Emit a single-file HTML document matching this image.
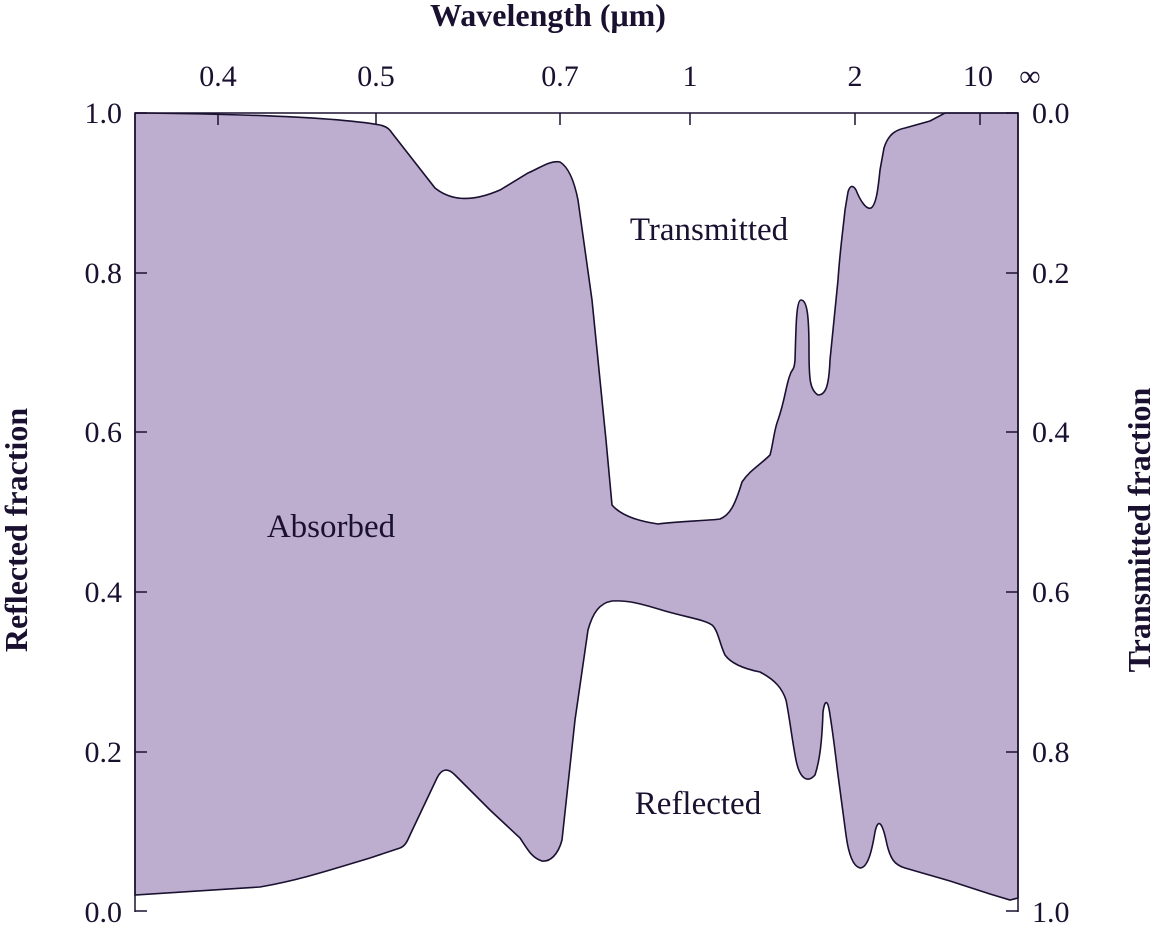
<!DOCTYPE html>
<html><head><meta charset="utf-8"><style>
html,body{margin:0;padding:0;background:#fff;width:1154px;height:929px;overflow:hidden}
svg text{font-family:"Liberation Serif",serif;fill:#1a1030}
</style></head><body>
<svg width="1154" height="929" viewBox="0 0 1154 929">
<path d="M135,113 C250,114 340,118 380,125 C388,127 390,130 392,133 L435,188 C450,200 470,203 500,190 L528,173 C540,168 550,160 560,162 C570,168 575,185 578,200 L592,300 L606,440 L612,505 C618,512 630,520 658,524 C680,521 705,521 720,519 C730,515 735,505 742,482 C750,470 760,465 770,455 C773,445 774,430 778,420 C785,400 786,385 790,375 C792,368 794,372 795,360 C796,330 796,300 801,300 C807,300 809,315 809,350 C809,380 810,390 818,395 C826,395 829,385 830,360 L838,280 C840,250 843,230 845,210 L848,192 C850,185 853,185 856,190 C860,200 866,210 871,208 C876,205 878,190 880,170 L884,148 C888,135 895,130 905,128 L930,121 L945,113 L1018,113 L1018,898 L1010,900 L990,894 L950,881 L905,868 C895,865 890,860 886,840 C882,822 878,818 875,832 C872,850 868,868 860,868 C852,866 848,850 846,835 L838,775 C836,760 834,740 830,715 C828,700 825,698 823,712 C822,740 820,760 815,775 C808,783 800,780 796,760 C792,740 790,720 786,700 C782,688 775,680 760,672 C740,668 730,662 725,655 C720,645 718,630 712,625 C705,620 690,618 665,611 C645,605 630,600 612,601 C600,603 593,612 588,630 L575,720 L562,840 C558,855 550,862 542,861 C532,858 528,850 520,838 L490,810 L455,775 C448,768 442,768 437,778 L410,835 C407,842 405,846 400,848 L370,858 C330,870 300,880 260,887 L135,895 Z" fill="#bdaecf" stroke="#1a1030" stroke-width="1.6"/>
<line x1="135" y1="113" x2="135" y2="912" stroke="#1a1030" stroke-width="1.5"/>
<line x1="1018" y1="113" x2="1018" y2="912" stroke="#1a1030" stroke-width="1.5"/>
<line x1="135" y1="113" x2="1018" y2="113" stroke="#1a1030" stroke-width="1.5"/>
<g stroke="#1a1030" stroke-width="1.5">
<line x1="135" y1="113" x2="147" y2="113"/><line x1="135" y1="273" x2="147" y2="273"/><line x1="135" y1="432" x2="147" y2="432"/><line x1="135" y1="592" x2="147" y2="592"/><line x1="135" y1="752" x2="147" y2="752"/><line x1="135" y1="911" x2="147" y2="911"/>
<line x1="1006" y1="113" x2="1018" y2="113"/><line x1="1006" y1="273" x2="1018" y2="273"/><line x1="1006" y1="432" x2="1018" y2="432"/><line x1="1006" y1="592" x2="1018" y2="592"/><line x1="1006" y1="752" x2="1018" y2="752"/><line x1="1006" y1="911" x2="1018" y2="911"/>
<line x1="218" y1="113" x2="218" y2="125"/><line x1="376" y1="113" x2="376" y2="125"/><line x1="560" y1="113" x2="560" y2="125"/><line x1="690" y1="113" x2="690" y2="125"/><line x1="855" y1="113" x2="855" y2="125"/><line x1="980" y1="113" x2="980" y2="125"/>
</g>
<g font-size="30" text-anchor="end">
<text x="122" y="123">1.0</text><text x="122" y="283">0.8</text><text x="122" y="442">0.6</text><text x="122" y="602">0.4</text><text x="122" y="762">0.2</text><text x="122" y="922">0.0</text>
</g>
<g font-size="30" text-anchor="start">
<text x="1032" y="123">0.0</text><text x="1032" y="283">0.2</text><text x="1032" y="442">0.4</text><text x="1032" y="602">0.6</text><text x="1032" y="762">0.8</text><text x="1032" y="922">1.0</text>
</g>
<g font-size="30" text-anchor="middle">
<text x="218" y="86">0.4</text><text x="376" y="86">0.5</text><text x="560" y="86">0.7</text><text x="690" y="86">1</text><text x="855" y="86">2</text><text x="978" y="86">10</text><text x="1030" y="86">∞</text>
</g>
<text x="548" y="26" font-size="32" font-weight="bold" text-anchor="middle">Wavelength (μm)</text>
<text transform="translate(27,530) rotate(-90)" font-size="32" font-weight="bold" text-anchor="middle">Reflected fraction</text>
<text transform="translate(1150,530) rotate(-90)" font-size="32" font-weight="bold" text-anchor="middle">Transmitted fraction</text>
<text x="709" y="240" font-size="33" text-anchor="middle">Transmitted</text>
<text x="331" y="537" font-size="33" text-anchor="middle">Absorbed</text>
<text x="698" y="814" font-size="33" text-anchor="middle">Reflected</text>
</svg>
</body></html>
